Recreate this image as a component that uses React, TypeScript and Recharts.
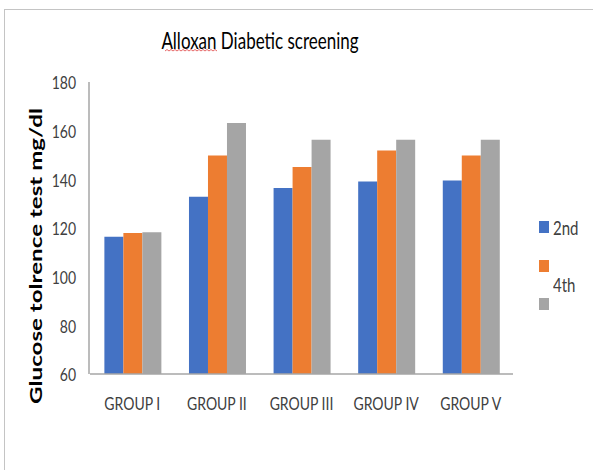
import { Bar, BarChart, XAxis, YAxis } from "recharts";

const groups = ["GROUP I", "GROUP II", "GROUP III", "GROUP IV", "GROUP V"];
const day2 = [116.4, 132.8, 136.4, 139.1, 139.5];
const day4 = [117.9, 149.8, 145.1, 151.8, 149.8];
const day6 = [118.3, 163.2, 156.3, 156.3, 156.3];
const seriesNames = ["2nd", "4th", "6th"];
const yTicks = [60, 80, 100, 120, 140, 160, 180];
const yMinorTicks = [60, 73.33, 86.67, 100, 113.33, 126.67, 140, 153.33, 166.67, 180];

const colors = ["#4472C4", "#ED7D31", "#A5A5A5"];
const axisGray = "#A6A6A6";
const font = "Lato, 'Open Sans', sans-serif";
const stretch = 1.3;

const data = groups.map((g, i) => ({ g, d2: day2[i], d4: day4[i], d6: day6[i] }));

function XTick({ x, y, payload }: any) {
  return (
    <g transform={`translate(${x},${y + 29}) scale(1,${stretch})`}>
      <text x={0} y={0} textAnchor="middle" dominantBaseline="central" fontSize={14} fill="#404040" fontFamily={font}>
        {payload.value}
      </text>
    </g>
  );
}

function YTick({ x, y, payload }: any) {
  return (
    <g transform={`translate(${x - 14},${y}) scale(1,${stretch})`}>
      <text x={0} y={0} textAnchor="end" dominantBaseline="central" fontSize={14} fill="#404040" fontFamily={font}>
        {payload.value}
      </text>
    </g>
  );
}

// legend sits in a box that clips the last entry, like the original
function LegendBox() {
  return (
    <div style={{ position: "absolute", left: 539, top: 210, width: 54, height: 105, overflow: "hidden", fontFamily: font }}>
      {seriesNames.map((name, i) => (
        <div key={name}>
          <div style={{ position: "absolute", left: 0, top: [11, 50, 88][i], width: 10, height: 12, background: colors[i] }} />
          <div
            style={{
              position: "absolute",
              left: 14,
              top: [7, 64, 103][i],
              fontSize: 15,
              color: "#404040",
              transform: `scaleY(${stretch})`,
              transformOrigin: "left top",
              lineHeight: "16px",
              whiteSpace: "nowrap",
            }}
          >
            {name}
          </div>
        </div>
      ))}
    </div>
  );
}

export default function App() {
  return (
    <div style={{ position: "absolute", left: 0, top: 0, width: 593, height: 470, background: "#fff", overflow: "hidden" }}>
      <div
        style={{
          position: "absolute",
          left: 4,
          top: 9,
          width: 620,
          height: 500,
          borderLeft: "1.5px solid #C4C4C4",
          borderTop: "1.5px solid #C4C4C4",
        }}
      />
      <BarChart
        width={593}
        height={470}
        data={data}
        margin={{ top: 82, right: 80, bottom: 95, left: 49 }}
        barGap={0}
        barCategoryGap="17%"
        style={{ position: "absolute", left: 0, top: 0 }}
      >
        <XAxis
          dataKey="g"
          height={1}
          tickSize={0}
          tickMargin={0}
          tick={<XTick />}
          axisLine={{ stroke: axisGray, strokeWidth: 1.5 }}
          tickLine={false}
          interval={0}
        />
        <YAxis
          yAxisId="main"
          width={1}
          type="number"
          domain={[60, 180]}
          ticks={yTicks}
          tick={<YTick />}
          tickSize={0}
          tickMargin={0}
          tickLine={false}
          axisLine={false}
        />
        <YAxis
          yAxisId="minor"
          width={40}
          type="number"
          domain={[60, 180]}
          ticks={yMinorTicks}
          tick={() => <g />}
          tickSize={5}
          tickLine={{ stroke: axisGray }}
          axisLine={{ stroke: axisGray, strokeWidth: 1.5 }}
        />
        <Bar yAxisId="main" dataKey="d2" name={seriesNames[0]} fill={colors[0]} isAnimationActive={false} />
        <Bar yAxisId="main" dataKey="d4" name={seriesNames[1]} fill={colors[1]} isAnimationActive={false} />
        <Bar yAxisId="main" dataKey="d6" name={seriesNames[2]} fill={colors[2]} isAnimationActive={false} />
      </BarChart>
      <LegendBox />
      <svg width={593} height={470} style={{ position: "absolute", left: 0, top: 0, pointerEvents: "none" }}>
        <g transform={`translate(260,41) scale(1,${stretch})`}>
          <text x={0} y={0} textAnchor="middle" dominantBaseline="central" fontSize={17} fill="#000" fontFamily={font}>
            Alloxan Diabetic screening
          </text>
        </g>
        <path
          d="M165 51 l2 -1.5 l2 1.5 l2 -1.5 l2 1.5 l2 -1.5 l2 1.5 l2 -1.5 l2 1.5 l2 -1.5 l2 1.5 l2 -1.5 l2 1.5 l2 -1.5 l2 1.5 l2 -1.5 l2 1.5 l2 -1.5 l2 1.5 l2 -1.5 l2 1.5 l2 -1.5 l2 1.5 l2 -1.5 l2 1.5 l2 -1.5 l2 1.5"
          fill="none"
          stroke="#E04040"
          strokeWidth={0.8}
        />
        <g transform={`translate(35,256) scale(1,1.38) rotate(-90)`}>
          <text x={0} y={0} textAnchor="middle" dominantBaseline="central" fontSize={17.5} fontWeight="bold" fill="#000" fontFamily={font}>
            Glucose tolrence test mg/dl
          </text>
        </g>
      </svg>
    </div>
  );
}
